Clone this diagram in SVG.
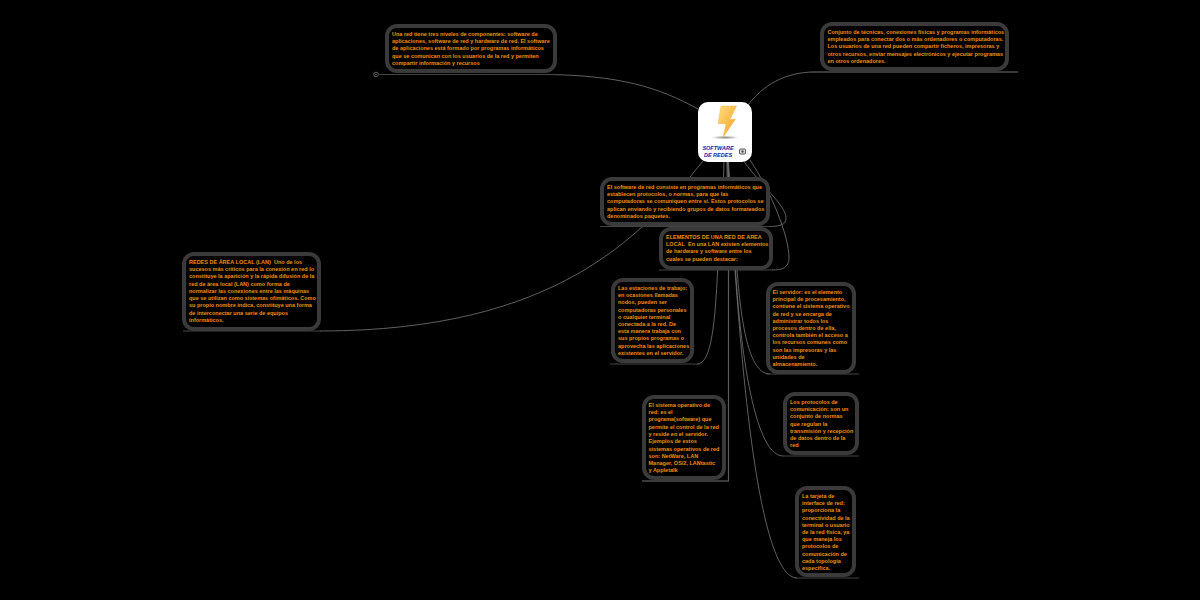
<svg xmlns="http://www.w3.org/2000/svg" width="1200" height="600" viewBox="0 0 1200 600">
<style>
.box{fill:#000;stroke:#3a3a3a;stroke-width:4}
.t{font-family:"Liberation Sans",Arial,sans-serif;font-size:5.5px;font-weight:700;fill:#f09000}
.c{fill:none;stroke:#777;stroke-width:.8}
.u{fill:none;stroke:#444;stroke-width:1.2}
.title{font-family:"Liberation Sans",Arial,sans-serif;font-size:5.5px;font-weight:700;font-style:italic;fill:#2222aa;text-anchor:middle}
</style>
<defs>
<linearGradient id="bolt" x1="0" y1="0" x2="1" y2="1"><stop offset="0" stop-color="#ffdf80"/><stop offset="1" stop-color="#f59a20"/></linearGradient>
<radialGradient id="shadow"><stop offset="0" stop-color="#888"/><stop offset="1" stop-color="#fff"/></radialGradient>
</defs>
<rect width="1200" height="600" fill="#000"/>
<g id="connectors">
<path class="c" d="M698 109C660 88 620 74.500 540 74.500H379"/>
<path class="c" d="M748 105C758 92 778 72 815 72H1018"/>
<path class="c" d="M703 161L690 177C640 232 560 331 320 331"/>
<path class="c" d="M743 160C760 185 786 205 786 218C786 225 780 226.500 768 226.500"/>
<path class="c" d="M750 160C770 190 789 235 789 258C789 268 782 270 772 270"/>
<path class="c" d="M724 162C723 200 720 240 717.700 270C715 320 712 364 697 364"/>
<path class="c" stroke-width="1.100" d="M727 162L728.500 270V481H642" style="stroke:#5c5c5c;stroke-width:1.200"/>
<path class="c" d="M728.500 162C731 205 735 250 737 270C741 320 748 374 770 374"/>
<path class="c" d="M728 162C730 205 733 250 735.500 270C739 330 752 456 783 456"/>
<path class="c" d="M727.500 162C730 205 733 250 735 270C741 350 757 578 797 578"/>
<path class="u" d="M379 74.500H560M810 72H1018M600 226.500H770M659 270H773M183 331H321M610 364H700M766 374H859M642 481H729M783 456H859M795 578H859"/>
<circle cx="376" cy="74.500" r="2.300" fill="#000" stroke="#666" stroke-width=".9"/>
<circle cx="376" cy="74.500" r=".8" fill="#666"/>
</g>
<g id="central">
<rect x="698" y="102" width="54" height="60" rx="10" fill="#fff"/>
<ellipse cx="725" cy="137.500" rx="14" ry="1.800" fill="url(#shadow)"/>
<path d="M721 106H736.500L730 119.500L735.500 119L723 137.500L726 124L718 123.500Z" fill="url(#bolt)" stroke="#f3b040" stroke-width=".4"/>
<text class="title"><tspan x="718" y="150">SOFTWARE</tspan><tspan x="718" y="157">DE REDES</tspan></text>
<rect x="739.500" y="149" width="6" height="5" rx="1" fill="#ddd" stroke="#333" stroke-width=".8"/>
<circle cx="742.500" cy="151.500" r="1.200" fill="#555"/>
</g>
<g id="node-niveles">
<rect class="box" x="387" y="26" width="168" height="45" rx="10"/>
<text class="t"><tspan x="392" y="36">Una red tiene tres niveles de componentes: software de</tspan><tspan x="392" y="43">aplicaciones, software de red y hardware de red. El software</tspan><tspan x="392" y="50.200">de aplicaciones está formado por programas informáticos</tspan><tspan x="392" y="58">que se comunican con los usuarios de la red y permiten</tspan><tspan x="392" y="65">compartir información y recursos</tspan></text>
</g>
<g id="node-conjunto">
<rect class="box" x="822" y="24" width="185" height="45" rx="10"/>
<text class="t"><tspan x="827.500" y="33.500">Conjunto de técnicas, conexiones físicas y programas informáticos</tspan><tspan x="827.500" y="40.700">empleados para conectar dos o más ordenadores o computadoras.</tspan><tspan x="827.500" y="47.900">Los usuarios de una red pueden compartir ficheros, impresoras y</tspan><tspan x="827.500" y="55.500">otros recursos, enviar mensajes electrónicos y ejecutar programas</tspan><tspan x="827.500" y="62.700">en otros ordenadores.</tspan></text>
</g>
<g id="node-software">
<rect class="box" x="602" y="179" width="166" height="45" rx="10"/>
<text class="t"><tspan x="607" y="188.500">El software de red consiste en programas informáticos que</tspan><tspan x="607" y="195.700">establecen protocolos, o normas, para que las</tspan><tspan x="607" y="202.700">computadoras se comuniquen entre sí. Estos protocolos se</tspan><tspan x="607" y="210.500">aplican enviando y recibiendo grupos de datos formateados</tspan><tspan x="607" y="217.700">denominados paquetes.</tspan></text>
</g>
<g id="node-elementos">
<rect class="box" x="661" y="229" width="110" height="39" rx="10"/>
<text class="t"><tspan x="666" y="238.500">ELEMENTOS DE UNA RED DE AREA</tspan><tspan x="666" y="245.700">LOCAL&#160; En una LAN existen elementos</tspan><tspan x="666" y="252.900">de hardware y software entre los</tspan><tspan x="666" y="260.700">cuales se pueden destacar:</tspan></text>
</g>
<g id="node-lan">
<rect class="box" x="184" y="254" width="135" height="75" rx="10"/>
<text class="t"><tspan x="189" y="263.500">REDES DE ÁREA LOCAL (LAN)&#160; Uno de los</tspan><tspan x="189" y="270.700">sucesos más críticos para la conexión en red lo</tspan><tspan x="189" y="277.900">constituye la aparición y la rápida difusión de la</tspan><tspan x="189" y="285.500">red de área local (LAN) como forma de</tspan><tspan x="189" y="292.700">normalizar las conexiones entre las máquinas</tspan><tspan x="189" y="299.900">que se utilizan como sistemas ofimáticos. Como</tspan><tspan x="189" y="307.100">su propio nombre indica, constituye una forma</tspan><tspan x="189" y="314.500">de interconectar una serie de equipos</tspan><tspan x="189" y="321.700">informáticos.</tspan></text>
</g>
<g id="node-estaciones">
<rect class="box" x="613" y="280" width="79" height="81" rx="10"/>
<text class="t"><tspan x="618" y="289.500">Las estaciones de trabajo:</tspan><tspan x="618" y="296.700">en ocasiones llamadas</tspan><tspan x="618" y="303.900">nodos, pueden ser</tspan><tspan x="618" y="311.500">computadoras personales</tspan><tspan x="618" y="318.700">o cualquier terminal</tspan><tspan x="618" y="325.900">conectada a la red. De</tspan><tspan x="618" y="333.100">esta manera trabaja con</tspan><tspan x="618" y="340.300">sus propios programas o</tspan><tspan x="618" y="347.500">aprovecha las aplicaciones</tspan><tspan x="618" y="354.700">existentes en el servidor.</tspan></text>
</g>
<g id="node-servidor">
<rect class="box" x="768" y="284" width="86" height="88" rx="10"/>
<text class="t"><tspan x="772.500" y="293.500">El servidor: es el elemento</tspan><tspan x="772.500" y="300.700">principal de procesamiento,</tspan><tspan x="772.500" y="307.900">contiene el sistema operativo</tspan><tspan x="772.500" y="315.500">de red y se encarga de</tspan><tspan x="772.500" y="322.700">administrar todos los</tspan><tspan x="772.500" y="329.900">procesos dentro de ella,</tspan><tspan x="772.500" y="337.100">controla también el acceso a</tspan><tspan x="772.500" y="344.300">los recursos comunes como</tspan><tspan x="772.500" y="351.500">son las impresoras y las</tspan><tspan x="772.500" y="358.700">unidades de</tspan><tspan x="772.500" y="365.900">almacenamiento.</tspan></text>
</g>
<g id="node-sistema">
<rect class="box" x="644" y="397" width="80" height="81" rx="10"/>
<text class="t"><tspan x="648.500" y="407">El sistema operativo de</tspan><tspan x="648.500" y="414.200">red: es el</tspan><tspan x="648.500" y="421.400">programa(software) que</tspan><tspan x="648.500" y="429">permite el control de la red</tspan><tspan x="648.500" y="436.200">y reside en el servidor.</tspan><tspan x="648.500" y="443.400">Ejemplos de estos</tspan><tspan x="648.500" y="450.600">sistemas operativos de red</tspan><tspan x="648.500" y="457.800">son: NetWare, LAN</tspan><tspan x="648.500" y="465">Manager, OS/2, LANtastic</tspan><tspan x="648.500" y="472.200">y Appletalk</tspan></text>
</g>
<g id="node-protocolos">
<rect class="box" x="785" y="394" width="72" height="59" rx="10"/>
<text class="t"><tspan x="790" y="403.500">Los protocolos de</tspan><tspan x="790" y="410.700">comunicación: son un</tspan><tspan x="790" y="417.900">conjunto de normas</tspan><tspan x="790" y="425.500">que regulan la</tspan><tspan x="790" y="432.700">transmisión y recepción</tspan><tspan x="790" y="439.900">de datos dentro de la</tspan><tspan x="790" y="447.100">red</tspan></text>
</g>
<g id="node-tarjeta">
<rect class="box" x="797" y="488" width="57" height="87" rx="10"/>
<text class="t"><tspan x="802" y="497.500">La tarjeta de</tspan><tspan x="802" y="504.700">interface de red:</tspan><tspan x="802" y="511.900">proporciona la</tspan><tspan x="802" y="519.500">conectividad de la</tspan><tspan x="802" y="526.700">terminal o usuario</tspan><tspan x="802" y="533.900">de la red física, ya</tspan><tspan x="802" y="541.100">que maneja los</tspan><tspan x="802" y="548.300">protocolos de</tspan><tspan x="802" y="555.500">comunicación de</tspan><tspan x="802" y="562.700">cada topología</tspan><tspan x="802" y="569.900">específica.</tspan></text>
</g>
</svg>
